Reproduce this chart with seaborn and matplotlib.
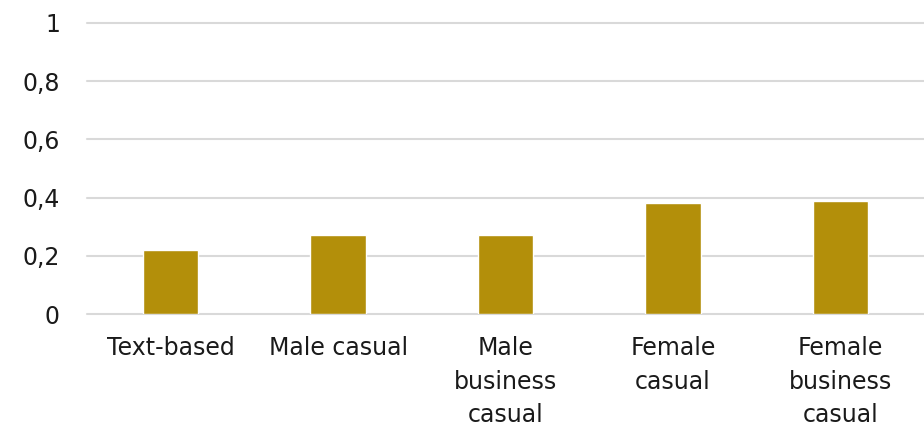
import matplotlib
matplotlib.use("Agg")
import matplotlib.pyplot as plt
import seaborn as sns
import pandas as pd
from matplotlib.ticker import FuncFormatter

categories = ["Text-based", "Male casual", "Male\nbusiness\ncasual", "Female\ncasual", "Female\nbusiness\ncasual"]
values = [0.22, 0.27, 0.27, 0.38, 0.39]
yticks = [0, 0.2, 0.4, 0.6, 0.8, 1.0]

sns.set_theme(style="white")
plt.rcParams['font.family'] = ['DejaVu Sans']

df = pd.DataFrame({"cat": categories, "val": values})
fig = plt.figure(figsize=(9.24, 4.30), dpi=100)
ax = fig.add_axes([87/924, 1 - 314/430, (924-87)/924, (314-23)/430])
sns.barplot(data=df, x="cat", y="val", color="#B38F0A", width=0.33, saturation=1, ax=ax, zorder=3)
ax.set_ylim(0, 1)
ax.set_yticks(yticks)
ax.yaxis.set_major_formatter(FuncFormatter(lambda v, p: ("%g" % v).replace(".", ",")))
ax.grid(axis="y", color="#D9D9D9", linewidth=1.5, zorder=0)
ax.set_axisbelow(True)
for gl in ax.get_ygridlines():
    gl.set_clip_on(False)
for s in ax.spines.values():
    s.set_visible(False)
ax.set_xlabel("")
ax.set_ylabel("")
ax.tick_params(axis="both", length=0, labelsize=17, colors="#1a1a1a")
ax.tick_params(axis="y", pad=19.5)
ax.tick_params(axis="x", pad=16)
for lbl in ax.get_xticklabels():
    lbl.set_linespacing(1.5)
fig.savefig("out.png", dpi=100)
